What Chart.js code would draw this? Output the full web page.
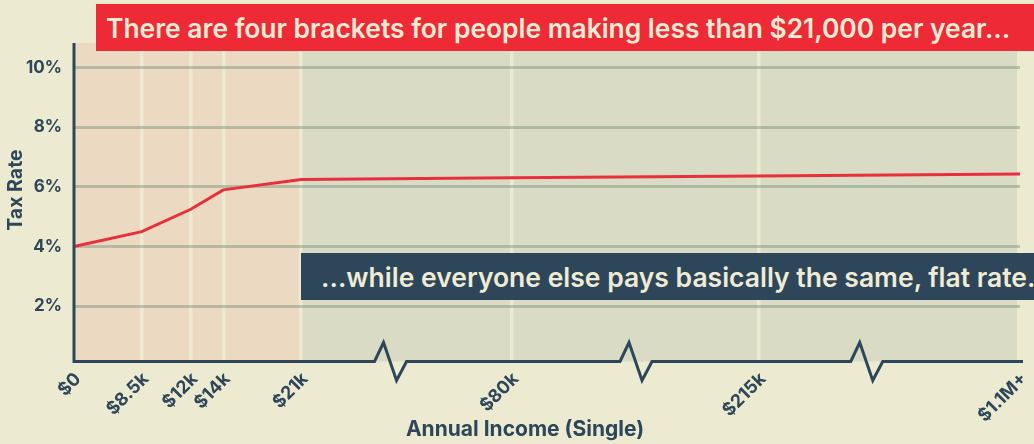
<!DOCTYPE html>
<html>
<head>
<meta charset="utf-8">
<script src="https://cdn.jsdelivr.net/npm/chart.js@4.4.1/dist/chart.umd.min.js"></script>
<style>
  html, body { margin: 0; padding: 0; background: #ecebd2; }
  #wrap { position: relative; width: 1034px; height: 444px; overflow: hidden; background: #ecebd2; }
  #chart { position: absolute; left: 0; top: 0; }
  .note {
    position: absolute; box-sizing: border-box; display: flex; align-items: center;
    font-family: Inter, sans-serif; font-weight: 600; color: #efebd4; white-space: nowrap;
  }
  #noteTop { left: 96px; top: 4px; width: 945px; height: 47px; background: #ee2a37; padding-left: 10px; font-size: 26.4px; }
  #noteMid { left: 301px; top: 253px; width: 745px; height: 47px; background: #2d4659; padding-left: 20px; font-size: 26.5px; }
</style>
</head>
<body>
<div id="wrap">
  <canvas id="chart" width="1034" height="444"></canvas>
  <div id="noteTop" class="note">There are four brackets for people making less than $21,000 per year...</div>
  <div id="noteMid" class="note">...while everyone else pays basically the same, flat rate.</div>
</div>
<script>
// Income bracket stops (single filer) and the tax rate at each stop
const incomeLabels = ['$0', '$8.5k', '$12k', '$14k', '$21k', '$80k', '$215k', '$1.1M+'];
const incomeValues = [0, 8500, 12000, 14000, 21000, 80000, 215000, 1100000];
const taxRates = [4.0, 4.5, 5.25, 5.9, 6.25, 6.31, 6.37, 6.43];
const rateTicks = [2, 4, 6, 8, 10];
const lowIncomeLimit = 21000;

const NAVY = '#2d4659';
const FONT = 'Inter, sans-serif';

// Where each income stop sits along the axis (0 = left edge, 1 = right edge)
const stopPositions = [0, 0.0716, 0.1234, 0.1578, 0.2400, 0.4627, 0.7241, 1];
// Where the broken-axis zigzags go
const axisBreaks = [0.3346, 0.5941, 0.8380];

// A piecewise-linear scale: each income stop gets its own place on the axis.
class BracketScale extends Chart.LinearScale {
  determineDataLimits() {
    const s = this.options.stops;
    this.min = s[0];
    this.max = s[s.length - 1];
  }
  buildTicks() {
    return this.options.stops.map(v => ({ value: v }));
  }
  _fraction(value) {
    const s = this.options.stops, p = this.options.stopPositions;
    if (value <= s[0]) return p[0];
    for (let i = 1; i < s.length; i++) {
      if (value <= s[i]) {
        return p[i - 1] + (value - s[i - 1]) / (s[i] - s[i - 1]) * (p[i] - p[i - 1]);
      }
    }
    return p[p.length - 1];
  }
  getPixelForValue(value) {
    return this.getPixelForDecimal(this._fraction(value));
  }
  getValueForPixel(pixel) {
    const d = this.getDecimalForPixel(pixel);
    const s = this.options.stops, p = this.options.stopPositions;
    for (let i = 1; i < p.length; i++) {
      if (d <= p[i]) return s[i - 1] + (d - p[i - 1]) / (p[i] - p[i - 1]) * (s[i] - s[i - 1]);
    }
    return s[s.length - 1];
  }
}
BracketScale.id = 'bracket';
BracketScale.defaults = Chart.LinearScale.defaults;
Chart.register(BracketScale);

// Bracket shading, the broken axes and the axis titles
const frame = {
  id: 'frame',
  beforeDraw(chart) {
    const { ctx, chartArea: a, scales: { x } } = chart;
    const split = x.getPixelForValue(lowIncomeLimit);
    ctx.save();
    ctx.fillStyle = '#ecd9c2';
    ctx.fillRect(a.left, a.top, split - a.left, a.bottom - a.top);
    ctx.fillStyle = '#dadbc4';
    ctx.fillRect(split, a.top, a.right - 3 - split, a.bottom - a.top);
    ctx.restore();
  },
  afterDraw(chart) {
    const { ctx, chartArea: a } = chart;
    const w = a.right - a.left;
    ctx.save();
    ctx.strokeStyle = NAVY;
    ctx.lineWidth = 3;
    ctx.lineJoin = 'miter';
    ctx.beginPath();
    ctx.moveTo(a.left, a.top);
    ctx.lineTo(a.left, a.bottom);
    for (const f of axisBreaks) {
      const c = a.left + f * w;
      ctx.lineTo(c - 16, a.bottom);
      ctx.lineTo(c - 7, a.bottom - 19);
      ctx.lineTo(c + 6, a.bottom + 19);
      ctx.lineTo(c + 16, a.bottom);
    }
    ctx.lineTo(a.right + 3, a.bottom);
    ctx.stroke();

    ctx.fillStyle = NAVY;
    ctx.textAlign = 'center';
    ctx.textBaseline = 'middle';
    ctx.font = '700 21px ' + FONT;
    ctx.fillText('Annual Income (Single)', 525, 430);
    ctx.font = '700 19.5px ' + FONT;
    ctx.translate(16, 190);
    ctx.rotate(-Math.PI / 2);
    ctx.fillText('Tax Rate', 0, 0);
    ctx.restore();
  }
};

new Chart(document.getElementById('chart'), {
  type: 'line',
  data: {
    datasets: [{
      data: incomeValues.map((v, i) => ({ x: v, y: taxRates[i] })),
      borderColor: '#e8303c',
      borderWidth: 3,
      pointRadius: 0,
      tension: 0,
      fill: false
    }]
  },
  options: {
    responsive: false,
    devicePixelRatio: 1,
    animation: false,
    events: [],
    layout: { autoPadding: false, padding: { top: 43, right: 14, bottom: 0, left: 0 } },
    plugins: { legend: { display: false }, tooltip: { enabled: false } },
    scales: {
      x: {
        type: 'bracket',
        stops: incomeValues,
        stopPositions: stopPositions,
        afterFit: s => {
          s.height = 82.5;
          s.paddingLeft = 0; s.paddingRight = 0; s.paddingTop = 0; s.paddingBottom = 0;
        },
        border: { display: false },
        grid: { color: '#ecebd2', lineWidth: 3.5, drawTicks: false, z: -2 },
        ticks: {
          autoSkip: false, minRotation: 45, maxRotation: 45, padding: 7, labelOffset: 4,
          color: NAVY, font: { family: FONT, weight: 700, size: 18 },
          callback: (v, i) => incomeLabels[i]
        }
      },
      y: {
        min: 0.14,
        max: 10.83,
        afterFit: s => {
          s.width = 74;
          s.paddingLeft = 0; s.paddingRight = 0; s.paddingTop = 0; s.paddingBottom = 0;
        },
        afterBuildTicks: s => { s.ticks = rateTicks.map(v => ({ value: v })); },
        border: { display: false },
        grid: { color: 'rgba(120,145,125,0.45)', lineWidth: 3, drawTicks: false, z: -1 },
        ticks: {
          padding: 12,
          color: NAVY, font: { family: FONT, weight: 700, size: 17 },
          callback: v => v + '%'
        }
      }
    }
  },
  plugins: [frame]
});
</script>
</body>
</html>
